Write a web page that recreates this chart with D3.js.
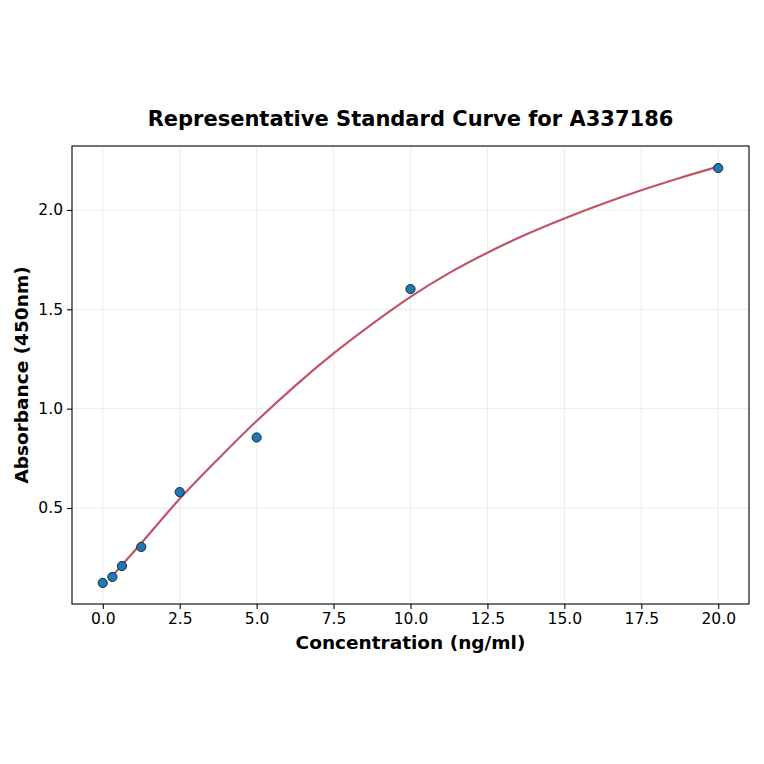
<!DOCTYPE html>
<html>
<head>
  <meta charset="utf-8">
  <title>Representative Standard Curve for A337186</title>
  <script src="https://d3js.org/d3.v7.min.js"></script>
  <style>
    body {
      margin: 0;
      background: white;
      font-family: "DejaVu Sans", sans-serif;
    }
    .grid line {
      stroke: #e6e6e6;
      stroke-width: 0.8px;
    }
    .axis path, .axis line {
      stroke: #000;
      stroke-width: 1.1px;
    }
    .label {
      font-size: 18.5px;
      font-weight: bold;
    }
  </style>
</head>
<body>
  <div id="chart"></div>
  <script>
    // standards (ng/ml) and measured absorbance
    const concentrations = [0, 0.3125, 0.625, 1.25, 2.5, 5, 10, 20];
    const absorbance = [0.123, 0.153, 0.208, 0.304, 0.58, 0.855, 1.602, 2.211];

    // fitted curve
    const curveX = [0.3125, 0.625, 1.25, 2.5, 3.75, 5, 6.25, 7.5, 8.75, 10, 11.25, 12.5, 13.75, 15, 16.25, 17.5, 18.75, 20];
    const curveY = [0.157, 0.213, 0.323, 0.546, 0.747, 0.938, 1.115, 1.278, 1.426, 1.563, 1.682, 1.785, 1.876, 1.957, 2.031, 2.099, 2.161, 2.218];

    const xTicks = [0, 2.5, 5, 7.5, 10, 12.5, 15, 17.5, 20];
    const yTicks = [0.5, 1.0, 1.5, 2.0];

    const width = 764, height = 764;
    const margin = { top: 146, right: 15, bottom: 160, left: 72 };

    const svg = d3.select('#chart')
      .append('svg')
      .attr('width', width)
      .attr('height', height);

    const x = d3.scaleLinear()
      .domain([-1, 21])
      .range([margin.left, width - margin.right]);

    const y = d3.scaleLinear()
      .domain([0.0168, 2.322])
      .range([height - margin.bottom, margin.top]);

    // grid
    svg.append('g')
      .attr('class', 'grid')
      .selectAll('line')
      .data(xTicks)
      .join('line')
      .attr('x1', d => x(d)).attr('x2', d => x(d))
      .attr('y1', margin.top).attr('y2', height - margin.bottom);

    svg.append('g')
      .attr('class', 'grid')
      .selectAll('line')
      .data(yTicks)
      .join('line')
      .attr('x1', margin.left).attr('x2', width - margin.right)
      .attr('y1', d => y(d)).attr('y2', d => y(d));

    // fitted line
    const line = d3.line()
      .x((d, i) => x(curveX[i]))
      .y(d => y(d))
      .curve(d3.curveMonotoneX);

    svg.append('path')
      .datum(curveY)
      .attr('d', line)
      .attr('fill', 'none')
      .attr('stroke', '#c05466')
      .attr('stroke-width', 2.2);

    // points
    svg.append('g')
      .selectAll('circle')
      .data(concentrations)
      .join('circle')
      .attr('cx', d => x(d))
      .attr('cy', (d, i) => y(absorbance[i]))
      .attr('r', 4.6)
      .attr('fill', '#1f77b4')
      .attr('stroke', '#1a2a3a')
      .attr('stroke-width', 1);

    // axes
    svg.append('g')
      .attr('class', 'axis')
      .attr('transform', `translate(0,${height - margin.bottom})`)
      .call(d3.axisBottom(x).tickValues(xTicks).tickFormat(d3.format('.1f')).tickSize(5).tickPadding(4))
      .call(g => g.select('.domain').remove());

    svg.append('g')
      .attr('class', 'axis')
      .attr('transform', `translate(${margin.left},0)`)
      .call(d3.axisLeft(y).tickValues(yTicks).tickFormat(d3.format('.1f')).tickSize(5).tickPadding(4))
      .call(g => g.select('.domain').remove());

    svg.selectAll('.axis text')
      .style('font-family', '"DejaVu Sans", sans-serif')
      .style('font-size', '15.5px')
      .style('fill', '#000');

    // frame
    svg.append('rect')
      .attr('x', margin.left)
      .attr('y', margin.top)
      .attr('width', width - margin.left - margin.right)
      .attr('height', height - margin.top - margin.bottom)
      .attr('fill', 'none')
      .attr('stroke', '#000')
      .attr('stroke-width', 1.1);

    // title & labels
    svg.append('text')
      .attr('x', (margin.left + width - margin.right) / 2)
      .attr('y', 126)
      .attr('text-anchor', 'middle')
      .style('font-size', '21px')
      .style('font-weight', 'bold')
      .text('Representative Standard Curve for A337186');

    svg.append('text')
      .attr('class', 'label')
      .attr('x', (margin.left + width - margin.right) / 2)
      .attr('y', 649)
      .attr('text-anchor', 'middle')
      .text('Concentration (ng/ml)');

    svg.append('text')
      .attr('class', 'label')
      .attr('transform', `translate(28,${(margin.top + height - margin.bottom) / 2}) rotate(-90)`)
      .attr('text-anchor', 'middle')
      .text('Absorbance (450nm)');
  </script>
</body>
</html>
